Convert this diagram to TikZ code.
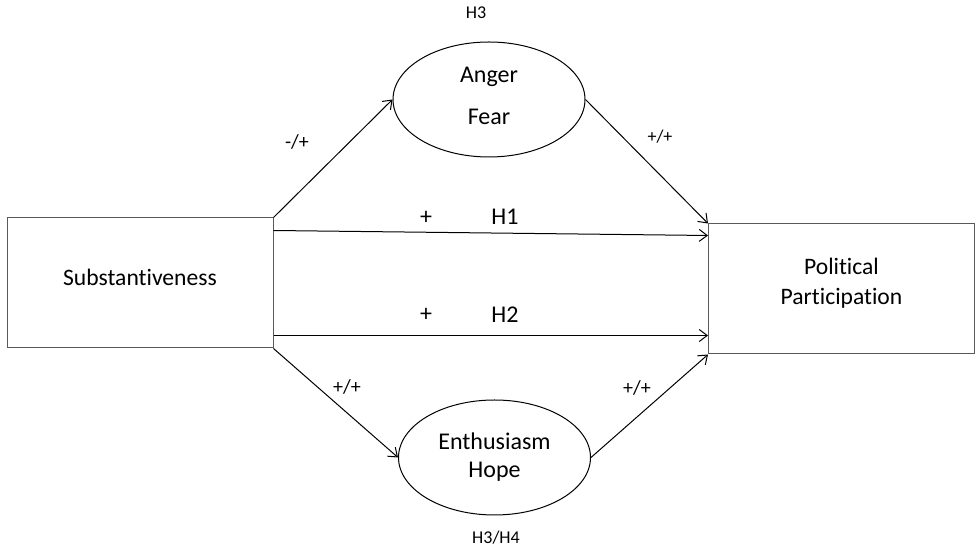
\documentclass[tikz,border=0pt]{standalone}
\usepackage{fontspec}
\setmainfont{Carlito}[Ligatures=NoCommon]
\usetikzlibrary{arrows.meta,shapes.geometric}

\begin{document}
\begin{tikzpicture}[x=0.5pt,y=-0.5pt,
					>={Straight Barb[length=4pt,width=6pt]},
					line width=0.5pt,
					var box/.style={rectangle,draw=black!65,minimum width=133pt,minimum height=65pt,align=center,font=\fontsize{11.8}{15}\selectfont},
					emo node/.style={ellipse,draw,minimum width=96pt,minimum height=57.5pt,inner sep=0pt,align=center,font=\fontsize{12}{14}\selectfont},
					hyp label/.style={font=\fontsize{9}{11}\selectfont},
					sign label/.style={font=\fontsize{10}{12}\selectfont},
					path label/.style={font=\fontsize{12}{14}\selectfont}]

  \useasboundingbox (0,0) rectangle (975,549);

  \node[var box,text depth=6pt] (S) at (140,283) {Substantiveness};
  \node[var box,text depth=7.7pt] (PP) at (841.5,289) {Political\\Participation};
  \node[emo node,text depth=4pt] (AF) at (489,99.5) {Anger\\[7pt]Fear};
  \node[emo node] (EH) at (494.5,457.5) {Enthusiasm\\Hope};

  \node[hyp label] (h3) at (476,13) {H3};
  \node[hyp label] (h34) at (496,538) {H3/H4};
  \node[sign label] (s1) at (297,142) {-/+};
  \node[hyp label] (s2) at (660,137) {+/+};
  \node[sign label] (s3) at (347,387) {+/+};
  \node[sign label] (s4) at (637,388) {+/+};
  \node[path label] (p1) at (426,218) {+};
  \node[path label] (h1) at (505,217) {H1};
  \node[path label] (p2) at (426,315) {+};
  \node[path label] (h2) at (505,315) {H2};

  \path[->]
    (S.north east) edge (AF.west)
    (AF.east) edge (PP.north west)
    ([yshift=-6.5pt]S.north east) edge ([yshift=-6pt]PP.north west)
    ([yshift=6.5pt]S.south east) edge ([yshift=9.5pt]PP.south west)
    (S.south east) edge (EH.west)
    (EH.east) edge (PP.south west);
\end{tikzpicture}
\end{document}
